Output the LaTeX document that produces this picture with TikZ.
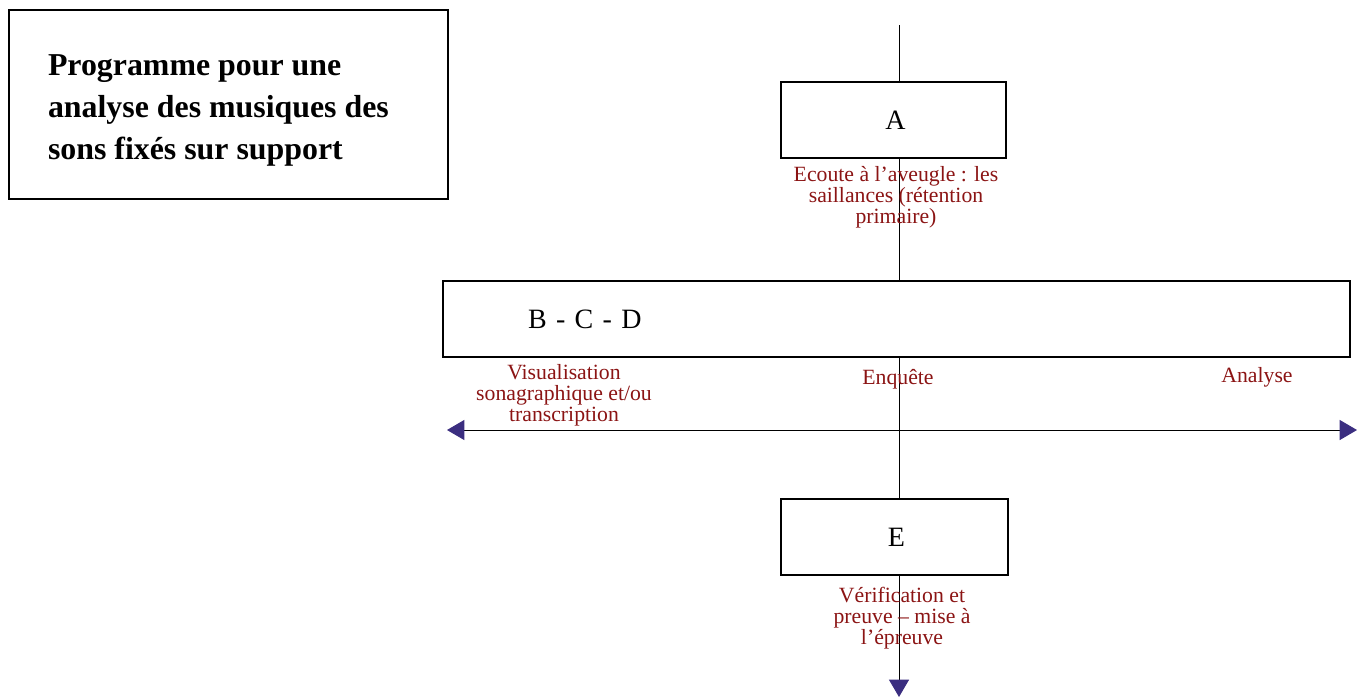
\documentclass[tikz,border=0pt]{standalone}
\usepackage{fontspec}
\setmainfont{Liberation Serif}
\usetikzlibrary{arrows.meta}
\definecolor{labred}{HTML}{8B1414}
\definecolor{tipblue}{HTML}{3B2E80}
\tikzset{
  px/.style={x=0.75pt,y=-0.75pt},
  boxnode/.style={draw, fill=white, line width=0.9pt, inner sep=0pt,
    minimum height=57pt, font=\fontsize{21}{24}\selectfont},
  lab/.style={text=labred, inner sep=0pt, anchor=north, align=center,
    font=\fontsize{16.3}{15.75}\selectfont},
  conn/.style={line width=0.75pt, >={Triangle[length=13pt,width=15pt,color=tipblue]}}
}
\begin{document}
\begin{tikzpicture}[px]
\useasboundingbox (0,0) rectangle (1357,697);
% title
\node[draw, line width=0.9pt, minimum width=329.25pt, minimum height=141.75pt,
  inner xsep=29.25pt, inner ysep=0pt,
  font=\fontsize{23.9}{31.2}\selectfont\bfseries] (title) at (228.5,104.5)
  {\parbox{270.75pt}{\vspace*{9pt}\raggedright Programme pour une analyse des musiques des sons fixés sur support}};
% connectors
\coordinate (top) at (899,25);
\coordinate (bot) at (899,697);
\coordinate (hl) at (447,430);
\coordinate (hr) at (1357,430);
\draw[conn, ->] (top) -- (bot);
\draw[conn, <->] (hl) -- (hr);
% boxes
\node[boxnode, minimum width=168.75pt] (A) at (893.5,120) {\hspace*{3pt}\raisebox{-1.5pt}{A}};
\node[boxnode, minimum width=680.25pt, inner xsep=63.75pt, text width=552.75pt, align=left] (BCD) at (896.5,319) {\raisebox{-1.5pt}{B - C - D}};
\node[boxnode, minimum width=170.25pt] (E) at (894.5,537) {\hspace*{3pt}\raisebox{-1.5pt}{E}};
% labels
\node[lab] (labA) at (896,166) {Ecoute à l’aveugle : les\\saillances (rétention\\primaire)};
\node[lab] (labV) at (564,364) {Visualisation\\sonagraphique et/ou\\transcription};
\node[lab] (labEnq) at (898,369) {Enquête};
\node[lab] (labAn) at (1257,367) {Analyse};
\node[lab] (labE) at (902,587) {Vérification et\\preuve – mise à\\l’épreuve};
\end{tikzpicture}
\end{document}
